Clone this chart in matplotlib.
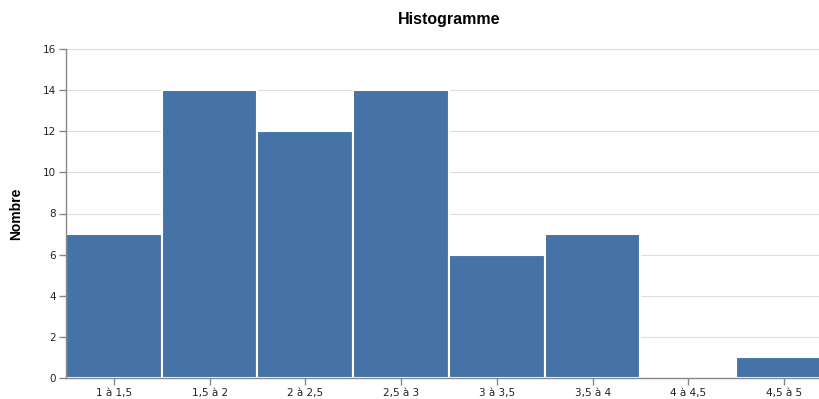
import matplotlib as mpl
mpl.use('Agg')
import numpy as np
import matplotlib.pyplot as plt

categories = ['1 à 1,5', '1,5 à 2', '2 à 2,5', '2,5 à 3', '3 à 3,5', '3,5 à 4', '4 à 4,5', '4,5 à 5']
counts = [7, 14, 12, 14, 6, 7, 0, 1]
y_ticks = [0, 2, 4, 6, 8, 10, 12, 14, 16]

fig = plt.figure(figsize=(8.2, 3.99), dpi=100)
# plot area runs a bit past the right edge of the picture, as in the original
ax = fig.add_axes([66/820, 1-378/399, 766/820, (378-49)/399])

x = np.arange(len(categories))
ax.bar(x, counts, width=1.0, color='#4572a7', edgecolor='white', linewidth=1.5, zorder=2)

ax.set_xlim(-0.5, len(categories)-0.5)
ax.set_ylim(0, 16)
ax.set_yticks(y_ticks)
ax.set_xticks(x)
ax.set_xticklabels(categories)
ax.tick_params(axis='both', labelsize=7.5, length=5, width=1, color='#888888', labelcolor='#222222', pad=2)
ax.grid(axis='y', color='#dddddd', linewidth=0.8, zorder=0)
ax.set_axisbelow(True)
for s in ['top', 'right']:
	ax.spines[s].set_visible(False)
for s in ['left', 'bottom']:
	ax.spines[s].set_color('#888888')
	ax.spines[s].set_linewidth(1)
ax.set_ylabel('Nombre', fontsize=10, fontweight='bold', family='Liberation Sans', labelpad=14)
ax.set_title('Histogramme', fontsize=11.5, fontweight='bold', family='Liberation Sans', pad=18)

fig.savefig('out.png', dpi=100)
